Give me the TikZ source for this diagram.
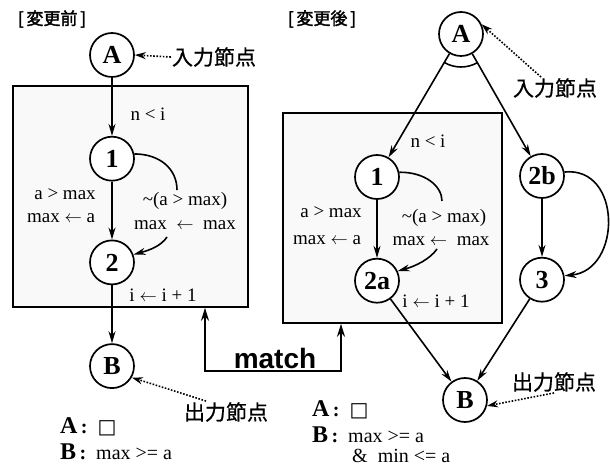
\documentclass[tikz,border=0pt]{standalone}
\usepackage{fontspec}
\setmainfont{Liberation Serif}
\setsansfont{Liberation Sans}
\newfontfamily\jpfont[FakeBold=0.6]{Noto Sans CJK JP}
\newfontfamily\jpbold[FakeBold=2]{Noto Sans CJK JP}
\newfontfamily\symfont{DejaVu Sans}
\usetikzlibrary{arrows.meta, positioning, fit, calc}
\tikzset{
    statenode/.style={
        circle, draw, line width=1.7pt, fill=white, minimum size=44pt,
        inner sep=0pt, font=\fontsize{26}{27}\selectfont\bfseries
    },
    regionbox/.style={draw, line width=1.6pt, fill=gray!5, inner sep=0pt},
    arrow/.style={-{Stealth[length=12pt, width=7pt]}, line width=1.6pt},
    plainline/.style={line width=1.6pt},
    dotarrow/.style={-{Stealth[length=11pt, width=7pt]}, dash pattern=on 1.6pt off 1.6pt, line width=1.6pt},
    matcharrow/.style={{Stealth[length=13pt, width=8pt]}-{Stealth[length=13pt, width=8pt]}, line width=2.2pt},
    edgelabel/.style={font=\fontsize{19}{20}\selectfont, inner sep=0pt, text height=10pt, text depth=1pt},
    jplabel/.style={font=\jpfont\fontsize{21}{23}\selectfont, inner sep=1pt},
    titlelabel/.style={font=\jpbold\fontsize{17}{19}\selectfont, inner sep=1pt},
    legend/.style={font=\fontsize{20}{21}\selectfont, inner sep=0pt, anchor=west},
}
\newcommand{\legkey}[1]{{\fontsize{24}{25}\selectfont\bfseries #1}\,\textbf{:}\enspace}

\begin{document}
\begin{tikzpicture}[x=1pt, y=1pt, node distance=58pt]
    \useasboundingbox (0,0) rectangle (610,466);

    % before change
    \node[regionbox, fit={(13,159) (248,380)}] (boxL) {};
    \node[titlelabel] (titleL) at (52,447) {[\,変更前\,]};
    \node[statenode] (aL) at (112,411) {A};
    \node[statenode, below=of aL] (oneL) {1};
    \node[statenode, below=of oneL] (twoL) {2};
    \node[statenode, below=of twoL] (bL) {B};
    \node[jplabel] (inL) at (214,409) {入力節点};
    \node[jplabel] (outL) at (226,54) {出力節点};

    \node[edgelabel] at (148,350) {n < i};
    \node[edgelabel] at (65,271) {a > max};
    \node[edgelabel] at (61,248) {max $\leftarrow$ a};
    \node[edgelabel] at (185,265) {\textasciitilde(a > max)};
    \node[edgelabel] at (185,241) {max \ $\leftarrow$ \ max};
    \node[edgelabel] at (163,169) {i $\leftarrow$ i + 1};

    \coordinate (curlL) at (177,276);
    \coordinate (curvL) at (167,229);
    \draw[arrow] (aL) -- (oneL);
    \draw[arrow] (oneL) -- (twoL);
    \draw[arrow] (twoL) -- (bL);
    \draw[plainline] (oneL.12) .. controls (160,312) and (177,297) .. (curlL);
    \draw[arrow] (curvL) .. controls (161,220) and (150,216) .. (twoL.20);
    \draw[dotarrow] (inL.west) -- (aL.east);
    \draw[dotarrow] ([xshift=-20pt]outL.north) -- (bL.-30);

    \node[legend] at (60,39) {\legkey{A}{\symfont □}};
    \node[legend] at (60,14) {\legkey{B}max >= a};

    % after change
    \node[regionbox, fit={(283,143) (502,353)}] (boxR) {};
    \node[titlelabel] (titleR) at (322,447) {[\,変更後\,]};
    \node[statenode] (aR) at (461,432) {A};
    \node[statenode] (oneR) at (377,289) {1};
    \node[statenode] (twobR) at (542,290) {2b};
    \node[statenode, below=of oneR] (twoaR) {2a};
    \node[statenode, below=of twobR] (threeR) {3};
    \node[statenode] (bR) at (465,66) {B};
    \node[jplabel] (inR) at (555,378) {入力節点};
    \node[jplabel] (outR) at (554,84) {出力節点};

    \node[edgelabel] at (428,323) {n < i};
    \node[edgelabel] at (331,253) {a > max};
    \node[edgelabel] at (327,226) {max $\leftarrow$ a};
    \node[edgelabel] at (444,248) {\textasciitilde(a > max)};
    \node[edgelabel] at (441,225) {max $\leftarrow$ \ max};
    \node[edgelabel] at (436,163) {i $\leftarrow$ i + 1};

    \coordinate (curlR) at (442,265);
    \coordinate (curvR) at (437,217);
    \draw[arrow] (aR) -- (oneR);
    \draw[arrow] (aR) -- (twobR);
    \draw[plainline] ($(aR)+(240:33)$) arc[start angle=240, end angle=300, radius=33];
    \draw[arrow] (oneR) -- (twoaR);
    \draw[arrow] (twobR) -- (threeR);
    \draw[arrow] (twoaR) -- (bR);
    \draw[arrow] (threeR) -- (bR);
    \draw[plainline] (oneR.12) .. controls (425,294) and (442,280) .. (curlR);
    \draw[arrow] (curvR) .. controls (430,207) and (416,200) .. (twoaR.25);
    \draw[arrow] (twobR.10) .. controls (622,300) and (622,196) .. (threeR.10);
    \draw[dotarrow] ([xshift=-14pt]inR.north) -- (aR.25);
    \draw[dotarrow] (outR.south) -- (bR.-15);

    \node[legend] at (312,56) {\legkey{A}{\symfont □}};
    \node[legend] at (312,31) {\legkey{B}max >= a};
    \node[legend] at (352,10) {\& \ min <= a};

    % match link
    \coordinate (mL) at (205,95);
    \coordinate (mR) at (341,95);
    \draw[matcharrow] (boxL.south -| mL) -- (mL) -- (mR) -- (boxR.south -| mR);
    \node[font=\sffamily\bfseries\fontsize{28}{30}\selectfont, inner sep=0pt] (matchtxt) at (275,108) {match};
\end{tikzpicture}
\end{document}
